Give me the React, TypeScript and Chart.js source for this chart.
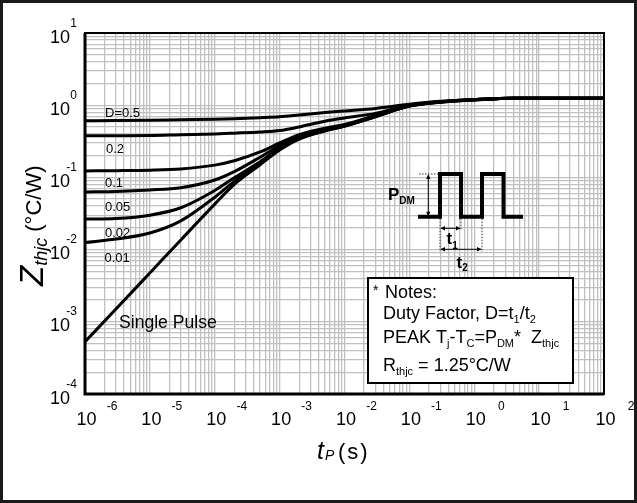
import React, { useEffect, useRef } from "react";
import { Chart, registerables } from "chart.js";

Chart.register(...registerables);

// ---------- data ----------
const tp = [1e-6, 3e-6, 1e-5, 3e-5, 1e-4, 2e-4, 5e-4, 1e-3, 2e-3, 5e-3, 1e-2, 3e-2, 1e-1, 3e-1, 1, 4, 100];

const zD05 = [0.61, 0.612, 0.62, 0.63, 0.64, 0.65, 0.67, 0.69, 0.73, 0.79, 0.83, 0.9, 1.03, 1.13, 1.2, 1.25, 1.25];
const zD02 = [0.378, 0.378, 0.38, 0.39, 0.4, 0.41, 0.425, 0.445, 0.5, 0.6, 0.665, 0.77, 1.0, 1.12, 1.2, 1.25, 1.25];
const zD01 = [0.123, 0.124, 0.126, 0.131, 0.148, 0.17, 0.225, 0.3, 0.39, 0.48, 0.54, 0.72, 0.99, 1.115, 1.195, 1.25, 1.25];
const zD005 = [0.063, 0.064, 0.067, 0.072, 0.092, 0.12, 0.19, 0.275, 0.365, 0.46, 0.525, 0.705, 0.985, 1.11, 1.19, 1.25, 1.25];
const zD002 = [0.0265, 0.027, 0.03, 0.038, 0.066, 0.099, 0.165, 0.255, 0.35, 0.45, 0.52, 0.7, 0.98, 1.11, 1.19, 1.25, 1.25];
const zD001 = [0.0125, 0.014, 0.017, 0.025, 0.053, 0.088, 0.155, 0.245, 0.345, 0.445, 0.515, 0.695, 0.975, 1.105, 1.185, 1.25, 1.25];
const zSingle = [5.3e-4, 1.5e-3, 4.75e-3, 0.0136, 0.0426, 0.08, 0.15, 0.24, 0.34, 0.44, 0.51, 0.69, 0.97, 1.1, 1.18, 1.25, 1.25];

const seriesNames = ["D=0.5", "0.2", "0.1", "0.05", "0.02", "0.01", "Single Pulse"];
const seriesValues = [zD05, zD02, zD01, zD005, zD002, zD001, zSingle];

const xTickExponents = [-6, -5, -4, -3, -2, -1, 0, 1, 2];
const yTickExponents = [-4, -3, -2, -1, 0, 1];
const minorMultipliers = [1, 2, 3, 4, 5, 6, 7, 8, 9];

const FONT = '"Liberation Sans", Arial, Helvetica, sans-serif';

function logTicks(exps: number[]) {
  const out: number[] = [];
  for (let i = 0; i < exps.length; i++) {
    const p = Math.pow(10, exps[i]);
    if (i === exps.length - 1) {
      out.push(p);
      break;
    }
    for (const m of minorMultipliers) out.push(m * p);
  }
  return out;
}

type Run = { t: string; f: string; dy?: number; dx?: number };
function drawRuns(ctx: CanvasRenderingContext2D, x: number, y: number, list: Run[]) {
  let cx = x;
  for (const r of list) {
    ctx.font = r.f;
    cx += r.dx || 0;
    ctx.fillText(r.t, cx, y + (r.dy || 0));
    cx += ctx.measureText(r.t).width;
  }
  return cx;
}

function arrowHead(ctx: CanvasRenderingContext2D, x: number, y: number, dx: number, dy: number) {
  const s = 4.5;
  const w = 2.2;
  ctx.beginPath();
  ctx.moveTo(x, y);
  ctx.lineTo(x - dx * s - dy * w, y - dy * s - dx * w);
  ctx.lineTo(x - dx * s + dy * w, y - dy * s + dx * w);
  ctx.closePath();
  ctx.fill();
}

const decorPlugin = {
  id: "decor",
  afterDraw(chart: any) {
    const ctx: CanvasRenderingContext2D = chart.ctx;
    const a = chart.chartArea;
    const xs = chart.scales.x;
    const ys = chart.scales.y;
    ctx.save();
    ctx.fillStyle = "#000";
    ctx.strokeStyle = "#000";

    // plot frame
    ctx.lineWidth = 2;
    ctx.strokeRect(a.left, a.top, a.right - a.left, a.bottom - a.top);
    ctx.lineWidth = 3;
    ctx.beginPath();
    ctx.moveTo(a.left, a.top);
    ctx.lineTo(a.left, a.bottom);
    ctx.lineTo(a.right, a.bottom);
    ctx.stroke();

    // x tick labels
    ctx.textBaseline = "alphabetic";
    for (const e of xTickExponents) {
      const px = xs.getPixelForValue(Math.pow(10, e));
      ctx.font = `18px ${FONT}`;
      ctx.textAlign = "center";
      ctx.fillText("10", px + 1.5, a.bottom + 31);
      ctx.font = `12px ${FONT}`;
      ctx.textAlign = "center";
      ctx.fillText(String(e), px + 27, a.bottom + 16);
    }
    // y tick labels
    for (const e of yTickExponents) {
      const py = ys.getPixelForValue(Math.pow(10, e));
      ctx.font = `18px ${FONT}`;
      ctx.textAlign = "right";
      ctx.fillText("10", 70, py + 9.5);
      ctx.font = `12px ${FONT}`;
      ctx.textAlign = "right";
      ctx.fillText(String(e), 77, py - 6.5);
    }

    // x title
    ctx.textAlign = "left";
    drawRuns(ctx, 317, 459, [
      { t: "t", f: `italic 25px ${FONT}` },
      { t: "P", f: `italic 14px ${FONT}`, dy: 1, dx: 1 },
    ]);
    ctx.font = `22px ${FONT}`;
    (ctx as any).letterSpacing = "2px";
    ctx.fillText("(s)", 338, 459);
    (ctx as any).letterSpacing = "0px";

    // y title (rotated)
    ctx.save();
    ctx.translate(43, 286);
    ctx.rotate(-Math.PI / 2);
    drawRuns(ctx, 0, 0, [
      { t: "Z", f: `italic 33px ${FONT}` },
      { t: "thjc", f: `italic 18px ${FONT}`, dy: 4 },
      { t: " (°C/W)", f: `22px ${FONT}`, dy: -2 },
    ]);
    ctx.restore();

    // curve labels
    ctx.font = `13px ${FONT}`;
    ctx.fillText(seriesNames[0], 105, 116.7);
    ctx.fillText(seriesNames[1], 106, 152.7);
    ctx.fillText(seriesNames[2], 105, 187);
    ctx.fillText(seriesNames[3], 105, 210.7);
    ctx.fillText(seriesNames[4], 105, 237);
    ctx.fillText(seriesNames[5], 104.5, 261.7);
    ctx.font = `17.6px ${FONT}`;
    ctx.fillText(seriesNames[6], 119, 328.3);

    // notes box
    ctx.fillStyle = "#fff";
    ctx.fillRect(368, 278, 205, 105);
    ctx.lineWidth = 2;
    ctx.strokeRect(368, 278, 205, 105);
    ctx.fillStyle = "#000";
    const big = `18px ${FONT}`;
    const sub = `11px ${FONT}`;
    ctx.font = `14px ${FONT}`;
    ctx.fillText("*", 373, 295);
    ctx.font = big;
    ctx.fillText("Notes:", 385, 298.3);
    drawRuns(ctx, 383, 319.3, [
      { t: "Duty Factor, D=t", f: big },
      { t: "1", f: sub, dy: 4 },
      { t: "/t", f: big },
      { t: "2", f: sub, dy: 4 },
    ]);
    drawRuns(ctx, 383, 343.3, [
      { t: "PEAK T", f: big },
      { t: "j", f: sub, dy: 4 },
      { t: "-T", f: big },
      { t: "C", f: sub, dy: 4 },
      { t: "=P", f: big },
      { t: "DM", f: sub, dy: 4 },
      { t: "*  Z", f: big },
      { t: "thjc", f: sub, dy: 4 },
    ]);
    drawRuns(ctx, 383, 370.7, [
      { t: "R", f: big },
      { t: "thjc", f: sub, dy: 4 },
      { t: " = 1.25°C/W", f: big },
    ]);

    // pulse diagram
    const yb = 216.7;
    const yt = 174;
    ctx.lineWidth = 4;
    ctx.lineJoin = "miter";
    ctx.beginPath();
    ctx.moveTo(418, yb);
    ctx.lineTo(440, yb);
    ctx.lineTo(440, yt);
    ctx.lineTo(461, yt);
    ctx.lineTo(461, yb);
    ctx.lineTo(482, yb);
    ctx.lineTo(482, yt);
    ctx.lineTo(503.5, yt);
    ctx.lineTo(503.5, yb);
    ctx.lineTo(523, yb);
    ctx.stroke();

    // dotted guides
    ctx.lineWidth = 0.8;
    ctx.setLineDash([1.5, 1.5]);
    ctx.beginPath();
    ctx.moveTo(419, yt);
    ctx.lineTo(438, yt);
    ctx.moveTo(440, yb + 2);
    ctx.lineTo(440, 252);
    ctx.moveTo(461, yb + 2);
    ctx.lineTo(461, 230);
    ctx.moveTo(482, yb + 2);
    ctx.lineTo(482, 252);
    ctx.stroke();
    ctx.setLineDash([]);

    // arrows
    ctx.lineWidth = 1;
    ctx.beginPath();
    ctx.moveTo(428.3, yt + 1);
    ctx.lineTo(428.3, yb - 1);
    ctx.moveTo(441, 228.3);
    ctx.lineTo(460, 228.3);
    ctx.moveTo(441, 249.3);
    ctx.lineTo(481, 249.3);
    ctx.stroke();
    arrowHead(ctx, 428.3, yt + 0.5, 0, -1);
    arrowHead(ctx, 428.3, yb - 0.5, 0, 1);
    arrowHead(ctx, 440.5, 228.3, -1, 0);
    arrowHead(ctx, 460.5, 228.3, 1, 0);
    arrowHead(ctx, 440.5, 249.3, -1, 0);
    arrowHead(ctx, 481.5, 249.3, 1, 0);

    // labels of the diagram
    drawRuns(ctx, 388, 200, [
      { t: "P", f: `bold 17px ${FONT}` },
      { t: "DM", f: `bold 10px ${FONT}`, dy: 4 },
    ]);
    drawRuns(ctx, 446.5, 244, [
      { t: "t", f: `bold 17px ${FONT}` },
      { t: "1", f: `bold 10px ${FONT}`, dy: 5 },
    ]);
    drawRuns(ctx, 456.5, 268, [
      { t: "t", f: `bold 17px ${FONT}` },
      { t: "2", f: `bold 10px ${FONT}`, dy: 3 },
    ]);

    // outer border
    ctx.lineWidth = 3;
    ctx.strokeStyle = "#1a1a1a";
    ctx.strokeRect(1.5, 1.5, chart.width - 3, chart.height - 3);
    ctx.restore();
  },
};

export default function App() {
  const ref = useRef<HTMLCanvasElement | null>(null);
  useEffect(() => {
    const canvas = ref.current;
    if (!canvas) return;
    const chart = new Chart(canvas, {
      type: "line",
      data: {
        datasets: seriesValues.map((vals, k) => ({
          label: seriesNames[k],
          data: tp.map((x, i) => ({ x, y: vals[i] })),
          borderColor: "#000",
          borderWidth: 3,
          pointRadius: 0,
          fill: false,
          cubicInterpolationMode: "monotone" as const,
        })),
      },
      options: {
        responsive: false,
        maintainAspectRatio: false,
        animation: false,
        layout: { padding: { left: 85, right: 33, top: 33, bottom: 109 } },
        plugins: { legend: { display: false }, tooltip: { enabled: false } },
        scales: {
          x: {
            type: "logarithmic",
            min: 1e-6,
            max: 1e2,
            afterBuildTicks: (s: any) => {
              s.ticks = logTicks(xTickExponents).map((v) => ({ value: v }));
            },
            afterFit: (s: any) => {
              s.height = 0;
            },
            ticks: { display: false },
            grid: { color: "#c0c0c0", lineWidth: 1.3, drawTicks: false },
            border: { display: false },
          },
          y: {
            type: "logarithmic",
            min: 1e-4,
            max: 1e1,
            afterBuildTicks: (s: any) => {
              s.ticks = logTicks(yTickExponents).map((v) => ({ value: v }));
            },
            afterFit: (s: any) => {
              s.width = 0;
            },
            ticks: { display: false },
            grid: { color: "#c0c0c0", lineWidth: 1.3, drawTicks: false },
            border: { display: false },
          },
        },
      } as any,
      plugins: [decorPlugin],
    });
    return () => chart.destroy();
  }, []);
  return (
    <div style={{ position: "fixed", left: 0, top: 0, width: 637, height: 503, background: "#fff" }}>
      <canvas ref={ref} width={637} height={503} style={{ width: 637, height: 503, display: "block" }} />
    </div>
  );
}
